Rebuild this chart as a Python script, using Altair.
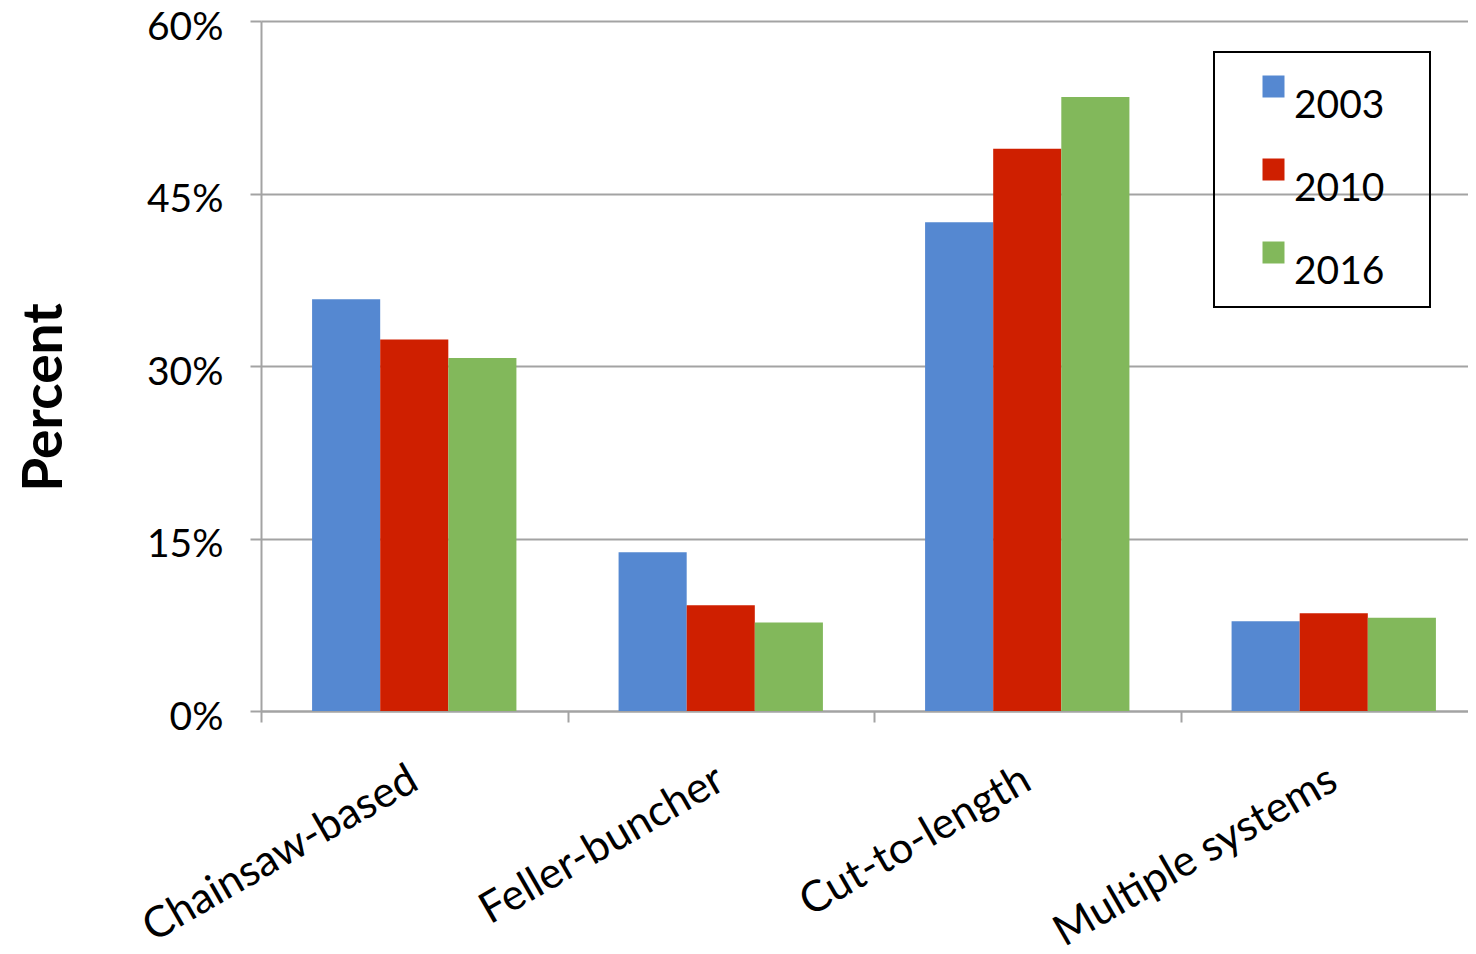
import altair as alt
import pandas as pd

categories = ["Chainsaw-based", "Feller-buncher", "Cut-to-length", "Multiple systems"]
years = ["2003", "2010", "2016"]
pct_2003 = [35.8, 13.8, 42.5, 7.8]
pct_2010 = [32.3, 9.2, 48.9, 8.5]
pct_2016 = [30.7, 7.7, 53.4, 8.1]
colors = ["#5588D1", "#CF1F00", "#82B85B"]
y_ticks = [0, 15, 30, 45, 60]

rows = []
for year, vals in zip(years, [pct_2003, pct_2010, pct_2016]):
    for c, v in zip(categories, vals):
        rows.append({"system": c, "year": year, "percent": v})
df = pd.DataFrame(rows)

FONT = "Lato"
GRID = "#A3A3A3"

chart = alt.Chart(df).mark_bar().encode(
    x=alt.X(
        "system:N",
        sort=categories,
        scale=alt.Scale(paddingInner=0, paddingOuter=0, range=[0, 1226]),
        axis=alt.Axis(
            title=None, tickBand="extent", labelAngle=330, labelAlign="right",
            labelBaseline="top", labelFontSize=43, labelFont=FONT, labelColor="black",
            labelPadding=36, labelOffset=-11, labelLimit=1000, tickSize=11, tickColor=GRID,
            tickWidth=2, domainColor=GRID, domainWidth=2, grid=False, labelOverlap=False,
        ),
    ),
    xOffset=alt.XOffset("year:N", sort=years, scale=alt.Scale(paddingInner=0, paddingOuter=0.75)),
    y=alt.Y(
        "percent:Q",
        scale=alt.Scale(domain=[0, 60], nice=False),
        axis=alt.Axis(
            values=y_ticks, title="Percent", labelExpr="datum.value + '%'",
            labelFont=FONT, labelFontSize=39, labelColor="black", labelPadding=27,
            labelOffset=6, labelFlush=False, tickSize=11, tickColor=GRID, tickWidth=2,
            domainColor=GRID, domainWidth=2, gridColor=GRID, gridWidth=2,
            titleFont=FONT, titleFontSize=55, titleFontWeight="bold", titleColor="black",
            titleAngle=270, titleX=-200, titleY=376, titleAlign="center",
            titleBaseline="alphabetic",
        ),
    ),
    color=alt.Color(
        "year:N",
        sort=years,
        scale=alt.Scale(domain=years, range=colors),
        legend=alt.Legend(
            title=None, orient="none", legendX=953, legendY=31,
            strokeColor="black", padding=15, rowPadding=24,
            symbolType="square", symbolSize=484, symbolOffset=25, symbolStrokeWidth=0,
            labelFont=FONT, labelFontSize=39, labelColor="black", labelOffset=1,
            labelBaseline="top",
            labelExpr="datum.label + '\u00a0\u00a0\u00a0\u200b'",
        ),
    ),
).properties(
    width=1204,
    height=690,
    autosize=alt.AutoSizeParams(type="none"),
    padding={"left": 253, "top": 13, "right": 3, "bottom": 235},
).configure_view(stroke="transparent").configure_legend(strokeWidth=2)

chart.save("out.html", embed_options={"renderer": "svg", "actions": False})
